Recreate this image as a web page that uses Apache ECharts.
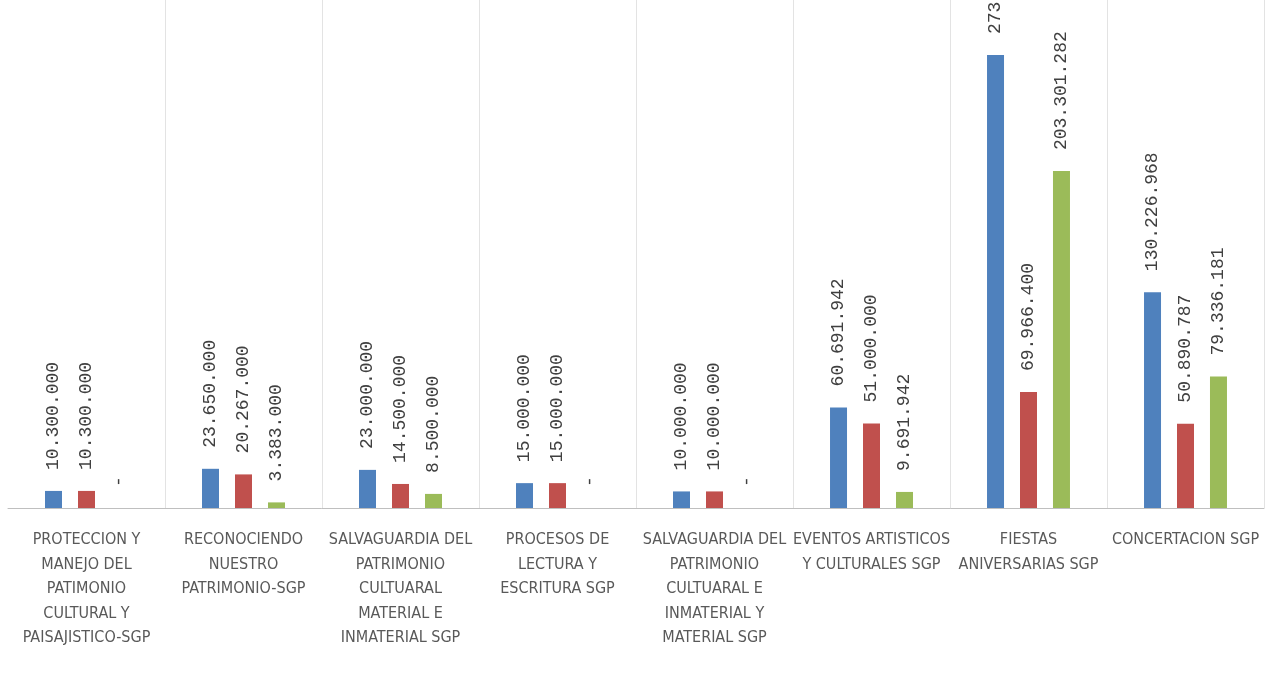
<!DOCTYPE html>
<html>
<head>
<meta charset="utf-8">
<script src="https://cdn.jsdelivr.net/npm/echarts@6/dist/echarts.min.js"></script>
<style>html,body{margin:0;padding:0;background:#fff;}#c{width:1265px;height:682px;}</style>
</head>
<body>
<div id="c"></div>
<script>
const categories = [
  "PROTECCION Y\nMANEJO DEL\nPATIMONIO\nCULTURAL Y\nPAISAJISTICO-SGP",
  "RECONOCIENDO\nNUESTRO\nPATRIMONIO-SGP",
  "SALVAGUARDIA DEL\nPATRIMONIO\nCULTUARAL\nMATERIAL E\nINMATERIAL SGP",
  "PROCESOS DE\nLECTURA Y\nESCRITURA SGP",
  "SALVAGUARDIA DEL\nPATRIMONIO\nCULTUARAL E\nINMATERIAL Y\nMATERIAL SGP",
  "EVENTOS ARTISTICOS\nY CULTURALES SGP",
  "FIESTAS\nANIVERSARIAS SGP",
  "CONCERTACION SGP"
];
const serieAzul = [10300000, 23650000, 23000000, 15000000, 10000000, 60691942, 273267682, 130226968];
const serieRoja = [10300000, 20267000, 14500000, 15000000, 10000000, 51000000, 69966400, 50890787];
const serieVerde = [0, 3383000, 8500000, 0, 0, 9691942, 203301282, 79336181];

function fmt(v) {
  if (!v) return '-';
  return String(Math.round(v)).replace(/\B(?=(\d{3})+(?!\d))/g, '.');
}
const labelCfg = {
  show: true,
  position: 'top',
  rotate: 90,
  align: 'left',
  verticalAlign: 'middle',
  distance: 21,
  fontFamily: 'Liberation Mono, DejaVu Sans Mono, monospace',
  fontSize: 18,
  color: '#404040',
  formatter: p => fmt(p.value)
};
function mk(name, data, color) {
  return {
    name, type: 'bar', data,
    barWidth: 17, barGap: '94%',
    itemStyle: { color },
    label: labelCfg
  };
}
const chart = echarts.init(document.getElementById('c'));
chart.setOption({
  animation: false,
  grid: { left: 8, right: 1, top: 0, bottom: 174, containLabel: false },
  xAxis: {
    type: 'category',
    data: categories,
    axisLine: { show: true, lineStyle: { color: '#BFBFBF', width: 1 } },
    axisTick: { show: false },
    splitLine: { show: true, interval: (i) => i > 0, lineStyle: { color: '#E3E3E3', width: 1 } },
    axisLabel: {
      interval: 0,
      margin: 20,
      fontFamily: 'Liberation Sans Narrow, DejaVu Sans Condensed, sans-serif',
      fontSize: 16,
      lineHeight: 24.5,
      color: '#595959'
    }
  },
  yAxis: {
    type: 'value', min: 0, max: 306500000, show: false,
    splitLine: { show: false }
  },
  series: [
    mk('Azul', serieAzul, '#4F81BD'),
    mk('Roja', serieRoja, '#C0504D'),
    mk('Verde', serieVerde, '#9BBB59')
  ]
});
</script>
</body>
</html>
